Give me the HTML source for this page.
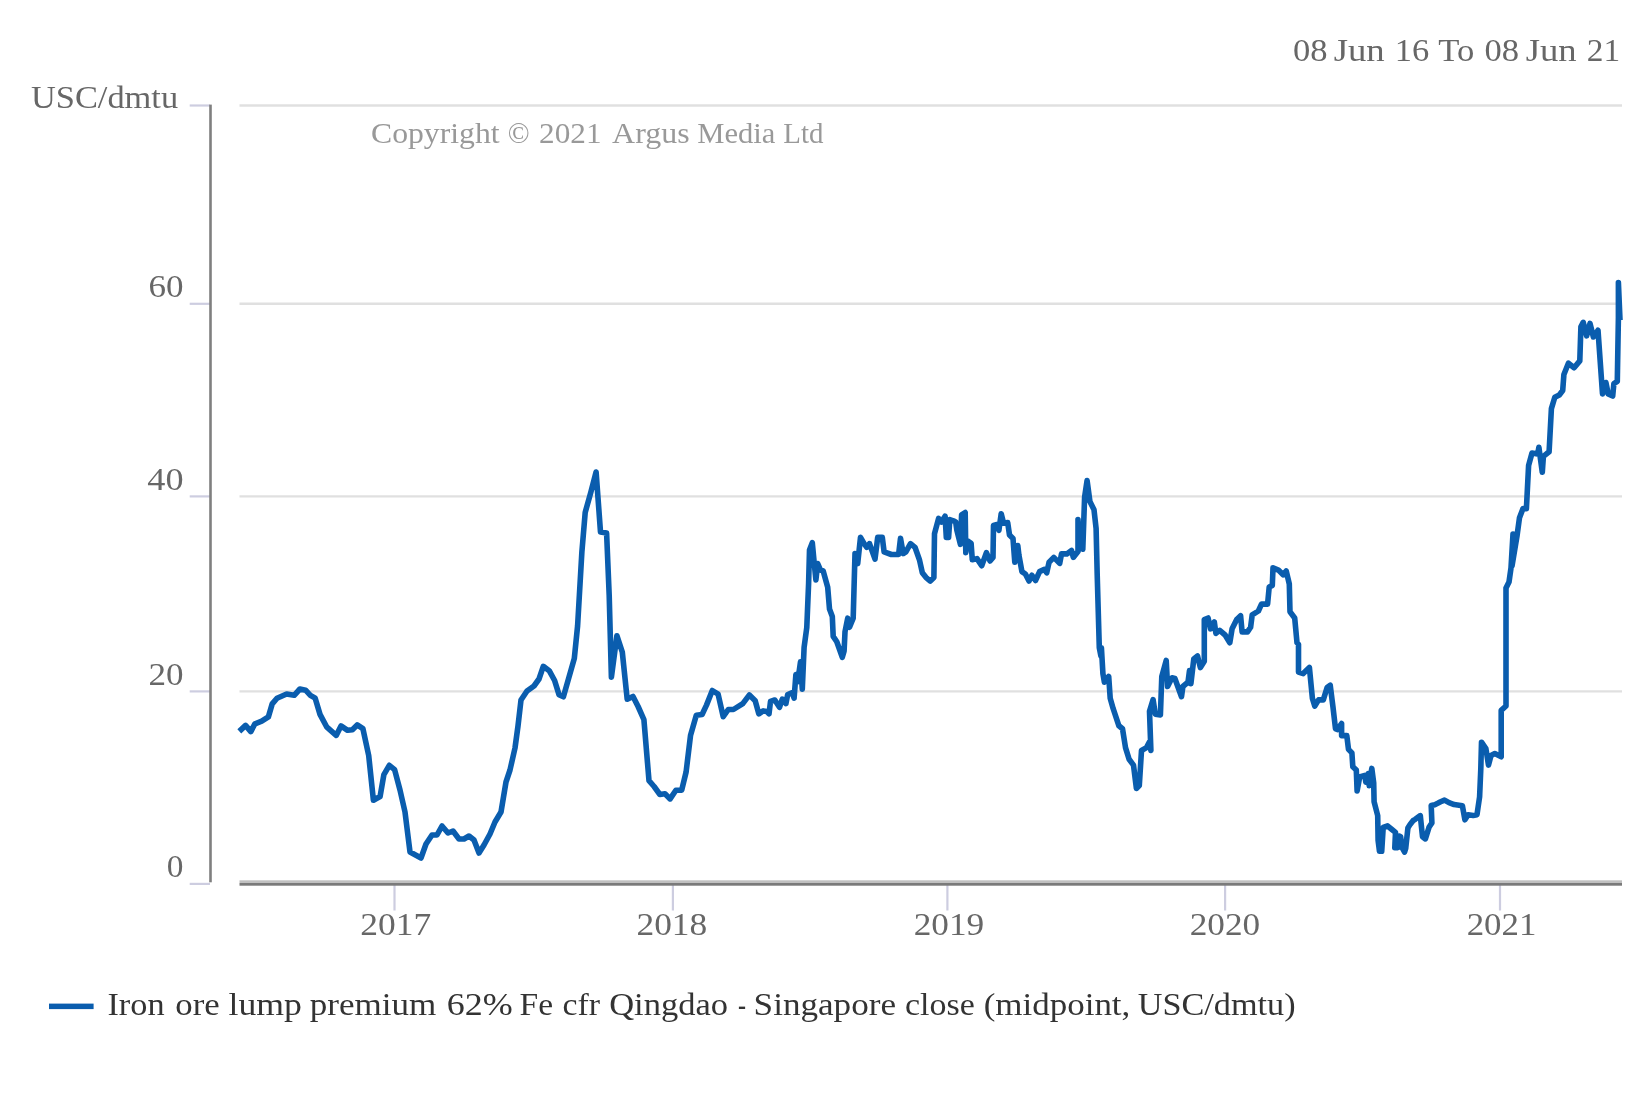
<!DOCTYPE html>
<html><head><meta charset="utf-8"><style>
html,body{margin:0;padding:0;background:#fff;width:1650px;height:1100px;overflow:hidden}
svg{display:block;font-family:"Liberation Serif", serif;will-change:transform}
</style></head><body>
<svg width="1650" height="1100" viewBox="0 0 1650 1100">
<rect width="1650" height="1100" fill="#fff"/>
<g stroke="#e0e0e0" stroke-width="2.4">
<line x1="239.5" y1="105.5" x2="1622" y2="105.5"/>
<line x1="239.5" y1="303.8" x2="1622" y2="303.8"/>
<line x1="239.5" y1="496.4" x2="1622" y2="496.4"/>
<line x1="239.5" y1="691.4" x2="1622" y2="691.4"/>
</g>
<g stroke="#cdcde0" stroke-width="2.2">
<line x1="189.7" y1="105.5" x2="210" y2="105.5"/>
<line x1="189.7" y1="303.8" x2="210" y2="303.8"/>
<line x1="189.7" y1="496.4" x2="210" y2="496.4"/>
<line x1="189.7" y1="691.4" x2="210" y2="691.4"/>
<line x1="189.7" y1="883.9" x2="210" y2="883.9"/>
<line x1="394.5" y1="885" x2="394.5" y2="910.5"/>
<line x1="672.9" y1="885" x2="672.9" y2="910.5"/>
<line x1="947.4" y1="885" x2="947.4" y2="910.5"/>
<line x1="1225.1" y1="885" x2="1225.1" y2="910.5"/>
<line x1="1500" y1="885" x2="1500" y2="910.5"/>
</g>
<rect x="209.2" y="104.6" width="2.6" height="777.7" fill="#7f7f7f"/>
<rect x="239.5" y="880.3" width="1382.5" height="2.7" fill="#c0c0c0"/>
<rect x="239.5" y="883" width="1382.5" height="2.7" fill="#7a7a7a"/>
<text x="107.43" y="1014.7" font-size="32" fill="#333" textLength="57.11" lengthAdjust="spacingAndGlyphs">Iron</text>
<text x="175.31" y="1014.7" font-size="32" fill="#333" textLength="44.42" lengthAdjust="spacingAndGlyphs">ore</text>
<text x="228.58" y="1014.7" font-size="32" fill="#333" textLength="73.4" lengthAdjust="spacingAndGlyphs">lump</text>
<text x="309.8" y="1014.7" font-size="32" fill="#333" textLength="126.58" lengthAdjust="spacingAndGlyphs">premium</text>
<text x="446.78" y="1014.7" font-size="32" fill="#333" textLength="65.96" lengthAdjust="spacingAndGlyphs">62%</text>
<text x="519.55" y="1014.7" font-size="32" fill="#333" textLength="33.49" lengthAdjust="spacingAndGlyphs">Fe</text>
<text x="562.44" y="1014.7" font-size="32" fill="#333" textLength="37.5" lengthAdjust="spacingAndGlyphs">cfr</text>
<text x="609.22" y="1014.7" font-size="32" fill="#333" textLength="118.77" lengthAdjust="spacingAndGlyphs">Qingdao</text>
<text x="738.05" y="1014.7" font-size="32" fill="#333" textLength="7.99" lengthAdjust="spacingAndGlyphs">-</text>
<text x="753.6" y="1014.7" font-size="32" fill="#333" textLength="142.42" lengthAdjust="spacingAndGlyphs">Singapore</text>
<text x="904.94" y="1014.7" font-size="32" fill="#333" textLength="69.76" lengthAdjust="spacingAndGlyphs">close</text>
<text x="983.71" y="1014.7" font-size="32" fill="#333" textLength="146.62" lengthAdjust="spacingAndGlyphs">(midpoint,</text>
<text x="1137.73" y="1014.7" font-size="32" fill="#333" textLength="157.86" lengthAdjust="spacingAndGlyphs">USC/dmtu)</text>
<text x="370.99" y="143" font-size="28.5" fill="#999" textLength="128.57" lengthAdjust="spacingAndGlyphs">Copyright</text>
<text x="507.89" y="143" font-size="28.5" fill="#999" textLength="21.88" lengthAdjust="spacingAndGlyphs">©</text>
<text x="539.11" y="143" font-size="28.5" fill="#999" textLength="62.38" lengthAdjust="spacingAndGlyphs">2021</text>
<text x="612.1" y="143" font-size="28.5" fill="#999" textLength="77.5" lengthAdjust="spacingAndGlyphs">Argus</text>
<text x="697.23" y="143" font-size="28.5" fill="#999" textLength="78.15" lengthAdjust="spacingAndGlyphs">Media</text>
<text x="783.39" y="143" font-size="28.5" fill="#999" textLength="40.1" lengthAdjust="spacingAndGlyphs">Ltd</text>
<text x="1292.92" y="61.2" font-size="32" fill="#676767" textLength="34.56" lengthAdjust="spacingAndGlyphs">08</text>
<text x="1333.65" y="61.2" font-size="32" fill="#676767" textLength="51.07" lengthAdjust="spacingAndGlyphs">Jun</text>
<text x="1394.76" y="61.2" font-size="32" fill="#676767" textLength="34.51" lengthAdjust="spacingAndGlyphs">16</text>
<text x="1438.22" y="61.2" font-size="32" fill="#676767" textLength="36" lengthAdjust="spacingAndGlyphs">To</text>
<text x="1484.42" y="61.2" font-size="32" fill="#676767" textLength="34.56" lengthAdjust="spacingAndGlyphs">08</text>
<text x="1525.75" y="61.2" font-size="32" fill="#676767" textLength="50.97" lengthAdjust="spacingAndGlyphs">Jun</text>
<text x="1586.86" y="61.2" font-size="32" fill="#676767" textLength="33.32" lengthAdjust="spacingAndGlyphs">21</text>
<text x="30.93" y="107.9" font-size="32" fill="#676767" textLength="147.17" lengthAdjust="spacingAndGlyphs">USC/dmtu</text>
<text x="148.47" y="297.3" font-size="31" fill="#676767" textLength="35.06" lengthAdjust="spacingAndGlyphs">60</text>
<text x="147.33" y="489.8" font-size="31" fill="#676767" textLength="36.24" lengthAdjust="spacingAndGlyphs">40</text>
<text x="148.47" y="684.8" font-size="31" fill="#676767" textLength="35.06" lengthAdjust="spacingAndGlyphs">20</text>
<text x="166.82" y="877" font-size="31" fill="#676767" textLength="16.69" lengthAdjust="spacingAndGlyphs">0</text>
<text x="360.36" y="935" font-size="31" fill="#676767" textLength="70.99" lengthAdjust="spacingAndGlyphs">2017</text>
<text x="636.46" y="935" font-size="31" fill="#676767" textLength="70.78" lengthAdjust="spacingAndGlyphs">2018</text>
<text x="913.66" y="935" font-size="31" fill="#676767" textLength="70.47" lengthAdjust="spacingAndGlyphs">2019</text>
<text x="1189.76" y="935" font-size="31" fill="#676767" textLength="70.47" lengthAdjust="spacingAndGlyphs">2020</text>
<text x="1466.68" y="935" font-size="31" fill="#676767" textLength="69.67" lengthAdjust="spacingAndGlyphs">2021</text>
<path d="M239.3 731.4 L245.6 725.4 L250.8 731.6 L254.9 723.8 L261.7 721.2 L268.4 716.9 L272.2 703.9 L277 698.2 L286.6 694 L294.2 695.3 L299.9 689 L305.6 690.2 L310.4 695.3 L315.2 698.2 L320 714.4 L326.6 726.8 L336.2 735.4 L341 725.9 L347.6 730.3 L352.4 729.7 L357.2 724.9 L362.9 728.7 L368.7 755.5 L373.4 800.3 L380.1 796.5 L383.9 774.6 L389.3 765.3 L394.6 769.6 L400 790 L405 812 L410 852 L421 858 L426 844 L432 835 L437 835 L442 826 L448 833 L453 831 L459 839 L464 839 L469 836 L474 840 L479 853 L484 845 L490 834 L495 822 L501 812 L506 782 L510 770 L515 748 L518 726 L521 700 L527 691 L534 686 L539 679 L543.3 666.3 L549.2 670.7 L554.6 680.5 L559 694.7 L563.4 696.8 L574.3 658.6 L577.6 625.9 L581.9 551.7 L585.2 512.4 L590.7 492.7 L596.1 472 L600.5 532 L606.6 533.1 L609.2 595.3 L611.4 677.2 L616.9 635.7 L622.3 652.1 L627.2 699.3 L633 696.4 L638.1 706.5 L643.9 719.6 L649 780.7 L654.1 786.5 L659.9 794.5 L665 793.8 L670.1 798.9 L675.9 790.2 L681.7 790.2 L686.1 772 L690.5 735.6 L696.3 715.3 L702.1 714.5 L706.5 705.1 L712.3 690.5 L718.1 694.2 L723.2 716.7 L728.3 709.5 L733.4 709.5 L742.8 703.6 L749.4 694.9 L755.2 700.7 L758.8 713.8 L763.2 710.9 L766.8 711.6 L769 713.8 L770.5 701.5 L774.8 700 L779.5 707.3 L782.3 699.1 L785.9 703.6 L787.7 694.5 L792.3 692.7 L794.1 698.2 L795.9 674.5 L797.7 681.8 L800.5 661.8 L802.3 689.1 L804.1 647.3 L806.8 627.3 L808.6 583.6 L809.5 550 L812.3 542.7 L814.1 561.8 L815.9 580 L817.7 563.6 L820.5 570 L823.2 570.9 L827.7 587.3 L829.5 609.1 L832.3 616.4 L833.2 636.4 L836.8 641.8 L842.3 657.3 L844.1 650.9 L845 631.8 L847.7 618.2 L849.5 627.3 L853.2 618.2 L855 553.6 L857.7 563.6 L860.5 537.3 L864.1 543.6 L866.8 547.3 L869.5 543.6 L875 559.1 L877.7 537.3 L882.3 537.3 L884.1 551.8 L891.4 554.5 L898.6 554.5 L900.5 538.2 L903.2 553.6 L905.9 551.8 L910.5 543.6 L915 547.3 L919.5 560 L922.3 572.7 L925.9 577.3 L930.3 581.1 L933.9 577.5 L934.5 533.8 L938.6 518.4 L941.5 522 L945.1 516.1 L946.3 537.4 L948.6 537.4 L949.8 519.6 L953.4 520.8 L955.7 522 L956.9 530.3 L960.4 544.4 L961.6 514.9 L965.2 512.5 L965.8 552.7 L967.5 540.9 L971.1 543.3 L972.3 559.8 L977 558.6 L981.7 565.7 L986.4 552.7 L990 561 L993 557.4 L993.5 525.5 L997.1 524.4 L998.9 530.3 L1001.2 513.7 L1003.6 523.2 L1007.7 522.6 L1009.5 535 L1013 538.5 L1014.8 562.2 L1017.8 545.6 L1018.9 555.1 L1021.9 571.6 L1025.4 574 L1029 581.1 L1031.9 575.2 L1035.5 580.5 L1039.6 571.6 L1044.4 569.3 L1046.7 572.8 L1049.1 562.2 L1053.8 557.4 L1059.7 563.4 L1061.5 553.9 L1066.8 553.9 L1071.5 550.4 L1073.3 557.4 L1078 551.5 L1078 519.6 L1079.8 548 L1082.8 549.2 L1084.6 497.2 L1087.1 480.5 L1089.9 501.4 L1094 509.7 L1096.1 528.5 L1097.2 574.5 L1099.3 647.7 L1100.9 656.1 L1101.4 647.7 L1102.9 673.5 L1104.4 682.2 L1108.7 676.4 L1110.2 698.2 L1113.1 708.4 L1118.9 725.8 L1122.5 728.7 L1125.5 747.6 L1129.1 759.3 L1133.5 765.1 L1136.4 788.4 L1139.3 785.5 L1141.5 750.5 L1146.5 747.6 L1149.5 741.8 L1150.9 750.5 L1149.5 711.3 L1153.1 699.6 L1155.3 714.2 L1160.4 714.9 L1161.8 676.4 L1166.2 660.4 L1167.6 686.5 L1172 677.8 L1174.9 678.5 L1181.5 696.7 L1182.9 686.5 L1188 682.2 L1189.5 670.5 L1190.9 683.6 L1193.8 658.9 L1197.5 656 L1200.4 667.6 L1204.3 661.3 L1204.3 619.5 L1208.1 618 L1210.5 628.8 L1214.3 621.9 L1215.9 633.4 L1219.7 630.4 L1225.1 635 L1229.8 642.7 L1232.1 628.8 L1236.7 619.5 L1240.6 615.7 L1242.1 631.9 L1247.5 631.9 L1250.6 627.3 L1252.2 614.9 L1258.4 611 L1261.5 604.1 L1267.6 604.1 L1269.2 587.1 L1272.3 585.5 L1273 567.8 L1278.4 570.1 L1283.1 574.7 L1286.2 570.9 L1289.3 584 L1290 611.8 L1294.7 618 L1297 642.7 L1298.5 644.3 L1298.5 672.1 L1303.2 673.6 L1309.4 667.4 L1312.4 698.4 L1314.8 706.1 L1318.6 699.9 L1323.3 699.9 L1327.1 687.5 L1330.2 685.2 L1332.9 706.3 L1335.5 728.7 L1337.3 729.6 L1341.6 723.5 L1341.6 735.6 L1346.8 735.6 L1348.5 749.4 L1351.9 752.9 L1352.8 766.7 L1356.3 770.1 L1357.1 790.9 L1359.7 777 L1364.9 775.3 L1365.8 782.2 L1368.3 773.6 L1369.2 785.7 L1371.8 768.4 L1373.7 782.9 L1374.1 801.8 L1377.7 815.6 L1378.1 840.4 L1379.5 851.3 L1381.7 851.3 L1383.2 827.3 L1387.5 825.8 L1391.9 829.5 L1395.5 832.4 L1394.8 847.6 L1397.7 847.6 L1399.2 836 L1400.6 836.7 L1402.1 847.6 L1404.6 852 L1405.7 848.4 L1407.9 828 L1410.1 824.4 L1413 820.7 L1415.2 819.3 L1420.3 815.6 L1422.5 836.7 L1425.4 838.9 L1429 827.3 L1431.9 822.9 L1431.2 805.5 L1434.8 804.7 L1437.7 803.3 L1440.6 801.8 L1444.5 800.1 L1449 802.7 L1454.1 804.6 L1462.4 805.8 L1464.9 819.8 L1468.1 814.7 L1473.2 815.4 L1477 814.7 L1479.6 796.9 L1480.8 768.9 L1481.5 742.2 L1485.9 748.6 L1488.5 765.1 L1491 755.6 L1494.8 753.6 L1501.2 756.8 L1501.2 710.4 L1506 706 L1506 588 L1509 582 L1511 568 L1513 534 L1512 566 L1517 536 L1519.5 517.7 L1523 508.6 L1526.4 508.6 L1528.6 465.5 L1532 453 L1537.7 454.1 L1538.9 447.3 L1542.3 472.3 L1543.4 456.4 L1549.1 451.8 L1551.4 408.6 L1554.8 397.3 L1559.3 395 L1562.7 390.5 L1563.9 374.5 L1568.4 363.2 L1574.1 367.7 L1579.8 360.9 L1580.9 326.8 L1583.2 322.3 L1586.6 335.9 L1590 323.4 L1593.4 337 L1598 330.2 L1602.5 393.9 L1605.9 382.5 L1608.2 393.9 L1612.7 396.1 L1613.9 383.6 L1617.3 381.4 L1618.4 317.7 L1618.4 282.5 L1620 320" fill="none" stroke="#0a5dae" stroke-width="5.6" stroke-linejoin="round" stroke-linecap="butt"/>
<rect x="49" y="1003.6" width="44.6" height="5.5" fill="#0a5dae"/>
</svg>
</body></html>
